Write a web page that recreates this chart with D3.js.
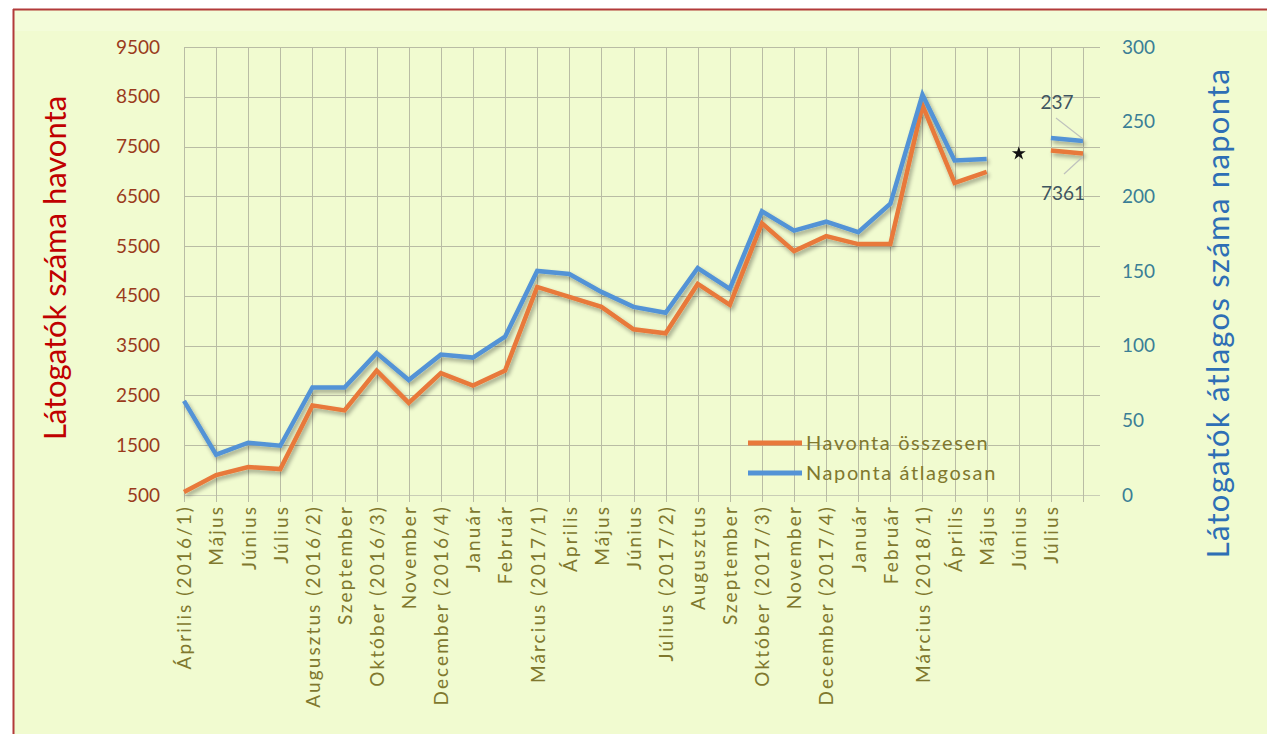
<!DOCTYPE html>
<html>
<head>
<meta charset="utf-8">
<script src="https://cdn.jsdelivr.net/npm/d3@7/dist/d3.min.js"></script>
<style>
  html, body { margin: 0; padding: 0; background: #ffffff; }
  svg { display: block; }
  text { font-family: Lato, "Open Sans", sans-serif; }
</style>
</head>
<body>
<svg id="chart" width="1267" height="734"></svg>
<script>
// Monthly categories (empty last slot holds the year-end estimate)
const categories = [
  "Április (2016/1)", "Május", "Június", "Július", "Augusztus (2016/2)", "Szeptember",
  "Október (2016/3)", "November", "December (2016/4)", "Január", "Február",
  "Március (2017/1)", "Április", "Május", "Június", "Július (2017/2)", "Augusztus",
  "Szeptember", "Október (2017/3)", "November", "December (2017/4)", "Január",
  "Február", "Március (2018/1)", "Április", "Május", "Június", "Július", ""
];

// Visitors per month (left axis)
const monthlyTotal = [
  560, 900, 1060, 1020, 2300, 2200, 3000, 2350, 2950, 2700, 3000,
  4680, 4480, 4280, 3830, 3750, 4740, 4320, 5960, 5400, 5700, 5540,
  5540, 8330, 6770, 6990, null, 7420, 7361
];

// Average visitors per day (right axis)
const dailyAverage = [
  63, 27, 35, 33, 72, 72, 95, 77, 94, 92, 106,
  150, 148, 136, 126, 122, 152, 138, 190, 177, 183, 176,
  195, 268, 224, 225, null, 239, 237
];

// Single marked month (star)
const markerIndex = [26];
const markerValue = [7361];

const leftTicks = [500, 1500, 2500, 3500, 4500, 5500, 6500, 7500, 8500, 9500];
const rightTicks = [0, 50, 100, 150, 200, 250, 300];

const seriesNames = ["Havonta összesen", "Naponta átlagosan"];

const svg = d3.select("#chart");
const W = 1267, H = 734;

const plot = { left: 184, right: 1100, top: 47, bottom: 495 };

const x = d3.scalePoint()
  .domain(d3.range(categories.length))
  .range([184, 1083]);

const yL = d3.scaleLinear().domain([500, 9500]).range([plot.bottom, plot.top]);
const yR = d3.scaleLinear().domain([0, 300]).range([plot.bottom, plot.top]);

const defs = svg.append("defs");
const shadow = defs.append("filter").attr("id", "lineShadow")
  .attr("filterUnits", "userSpaceOnUse")
  .attr("x", 0).attr("y", 0).attr("width", W).attr("height", H);
shadow.append("feGaussianBlur").attr("in", "SourceAlpha").attr("stdDeviation", 2).attr("result", "b");
shadow.append("feOffset").attr("in", "b").attr("dx", 2).attr("dy", 3).attr("result", "o");
shadow.append("feComponentTransfer").attr("in", "o").attr("result", "s")
  .append("feFuncA").attr("type", "linear").attr("slope", 0.35);
const merge = shadow.append("feMerge");
merge.append("feMergeNode").attr("in", "s");
merge.append("feMergeNode").attr("in", "SourceGraphic");

const soft = defs.append("filter").attr("id", "soft")
  .attr("filterUnits", "userSpaceOnUse")
  .attr("x", 0).attr("y", 0).attr("width", W).attr("height", H);
soft.append("feGaussianBlur").attr("stdDeviation", 0.5);

// Chart background and frame
svg.append("rect").attr("x", 13).attr("y", 9).attr("width", W - 13).attr("height", H - 9)
  .attr("fill", "#f1fbd0");
svg.append("rect").attr("x", 13).attr("y", 11).attr("width", W - 13).attr("height", 20)
  .attr("fill", "#f5fde0").attr("opacity", 0.6);
svg.append("line").attr("x1", 13).attr("x2", W).attr("y1", 9.5).attr("y2", 9.5)
  .attr("stroke", "#b23a3a").attr("stroke-width", 2);
svg.append("line").attr("x1", 13.5).attr("x2", 13.5).attr("y1", 9).attr("y2", H)
  .attr("stroke", "#b23a3a").attr("stroke-width", 2);

// Grid
const grid = svg.append("g");
grid.selectAll("line.h").data(leftTicks).join("line")
  .attr("x1", plot.left).attr("x2", plot.right)
  .attr("y1", d => Math.round(yL(d)) + 0.5).attr("y2", d => Math.round(yL(d)) + 0.5)
  .attr("stroke", d => d === 500 ? "#c9cdb6" : "#b9bca4").attr("stroke-width", 1);
grid.selectAll("line.v").data(d3.range(categories.length)).join("line")
  .attr("x1", d => Math.round(x(d)) + 0.5).attr("x2", d => Math.round(x(d)) + 0.5)
  .attr("y1", plot.top).attr("y2", plot.bottom + 7)
  .attr("stroke", "#b9bca4").attr("stroke-width", 1);

// Left axis
const axL = svg.append("g").attr("transform", `translate(${plot.left},0)`)
  .call(d3.axisLeft(yL).tickValues(leftTicks).tickSize(0).tickPadding(24).tickFormat(d3.format("d")));
axL.select(".domain").remove();
axL.selectAll("text").attr("fill", "#9a3a1c").style("font-size", "19px")
  .style("font-family", "Lato, 'Open Sans', sans-serif");

// Right axis
const axR = svg.append("g").attr("transform", `translate(${plot.right},0)`)
  .call(d3.axisRight(yR).tickValues(rightTicks).tickSize(0).tickPadding(22));
axR.select(".domain").remove();
axR.selectAll("text").attr("fill", "#3b7e96").style("font-size", "19px")
  .style("font-family", "Lato, 'Open Sans', sans-serif");

// Category axis
const axB = svg.append("g").attr("transform", `translate(0,${plot.bottom})`)
  .call(d3.axisBottom(x).tickSize(0).tickFormat(i => categories[i]));
axB.select(".domain").remove();
axB.selectAll("text")
  .attr("transform", "rotate(-90)")
  .attr("text-anchor", "end")
  .attr("x", -10).attr("y", 0).attr("dy", "0.36em")
  .attr("fill", "#80782e")
  .style("font-size", "19px")
  .style("letter-spacing", "2.1px")
  .style("font-family", "Lato, 'Open Sans', sans-serif");

// Series lines
const lineL = d3.line().defined(d => d != null).x((d, i) => x(i)).y(d => yL(d));
const lineR = d3.line().defined(d => d != null).x((d, i) => x(i)).y(d => yR(d));

const lines = svg.append("g").attr("filter", "url(#lineShadow)");
lines.append("path").datum(monthlyTotal).attr("d", lineL)
  .attr("fill", "none").attr("stroke", "#e8793a").attr("stroke-width", 4.5)
  .attr("stroke-linejoin", "miter").attr("filter", "url(#soft)");
lines.append("path").datum(dailyAverage).attr("d", lineR)
  .attr("fill", "none").attr("stroke", "#5393d6").attr("stroke-width", 4.5)
  .attr("stroke-linejoin", "miter").attr("filter", "url(#soft)");

// Star marker
svg.append("g").selectAll("path").data(markerIndex).join("path")
  .attr("transform", (d, k) => `translate(${x(d)},${yL(markerValue[k])})`)
  .attr("d", d3.symbol().type(d3.symbolStar).size(60))
  .attr("fill", "#111");

// Value labels for the last point with leader lines
const last = categories.length - 1;
const labels = svg.append("g");
const pB = [x(last), yR(dailyAverage[last])];
const pO = [x(last), yL(monthlyTotal[last])];
labels.append("line").attr("x1", 1056).attr("y1", 118).attr("x2", pB[0]).attr("y2", pB[1] - 2)
  .attr("stroke", "#bfc2bd").attr("stroke-width", 1.2);
labels.append("line").attr("x1", 1064).attr("y1", 174).attr("x2", pO[0]).attr("y2", pO[1] + 3)
  .attr("stroke", "#bfc2bd").attr("stroke-width", 1.2);
labels.append("text").attr("x", 1057).attr("y", 109).attr("text-anchor", "middle")
  .attr("fill", "#3f5560").style("font-size", "19px").text(dailyAverage[last]);
labels.append("text").attr("x", 1063).attr("y", 200).attr("text-anchor", "middle")
  .attr("fill", "#3f5560").style("font-size", "19px").text(monthlyTotal[last]);

// Axis titles
svg.append("text")
  .attr("transform", "translate(66,268) rotate(-90)")
  .attr("text-anchor", "middle").attr("fill", "#c00000")
  .style("font-size", "31px").text("Látogatók száma havonta");
svg.append("text")
  .attr("transform", "translate(1229,313) rotate(-90)")
  .attr("text-anchor", "middle").attr("fill", "#2e6fb5")
  .style("font-size", "31px").style("letter-spacing", "1.3px")
  .text("Látogatók átlagos száma naponta");

// Legend
const legendColors = ["#e8793a", "#5393d6"];
const legend = svg.append("g");
seriesNames.forEach((name, k) => {
  const ly = 443 + k * 30;
  legend.append("rect").attr("x", 748).attr("y", ly - 2.5).attr("width", 54).attr("height", 5)
    .attr("fill", legendColors[k]).attr("filter", "url(#soft)");
  legend.append("text").attr("x", 806).attr("y", ly).attr("dy", "0.36em")
    .attr("fill", "#80782e").style("font-size", "20px").style("letter-spacing", "1.6px")
    .text(name);
});
</script>
</body>
</html>
